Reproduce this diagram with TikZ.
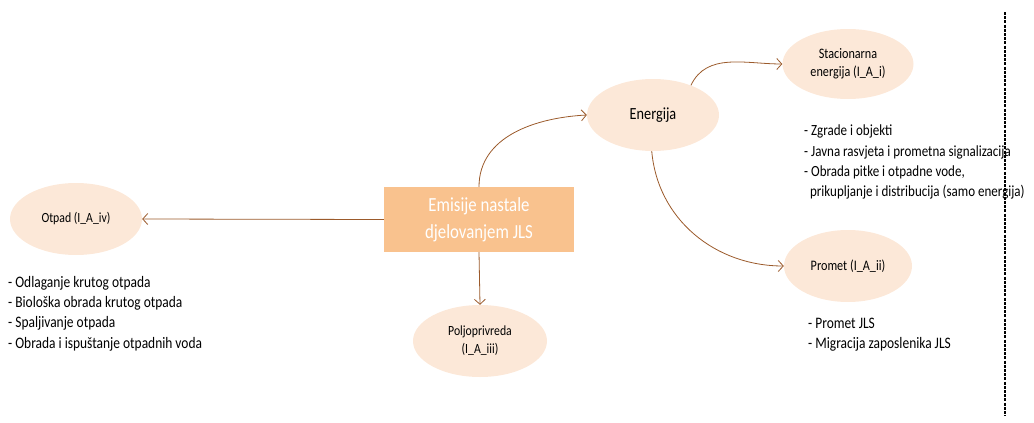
\documentclass[tikz,border=0pt]{standalone}
\usepackage{fontspec}
\setmainfont{Carlito}[FakeStretch=0.84]
\usetikzlibrary{arrows.meta,shapes.geometric}
\definecolor{rectfill}{HTML}{F9C28E}
\definecolor{ellfill}{HTML}{FCE8D8}
\definecolor{arr}{HTML}{9B5A2B}
\begin{document}
\begin{tikzpicture}[x=1pt,y=-1pt,
  ell/.style={ellipse,fill=ellfill,minimum width=132pt,minimum height=72pt,inner sep=0pt,align=center},
  conn/.style={draw=arr,line width=0.8pt,-{Straight Barb[length=5pt,width=11pt,line width=0.8pt]}},
  lst/.style={anchor=north west,align=left,inner sep=0pt,font=\fontsize{16}{20.3}\selectfont}]
\useasboundingbox (0,0) rectangle (1034,423);
\node[fill=rectfill,minimum width=190pt,minimum height=65pt,align=center,text=white,font=\fontsize{20}{27}\selectfont] (c) at (479,219.5) {Emisije nastale\\djelovanjem JLS};
\node[ell,font=\fontsize{17}{18}\selectfont] (en) at (653,115) {Energija};
\node[ell,minimum width=131pt,minimum height=70pt,font=\fontsize{14.5}{18}\selectfont] (st) at (848,64) {Stacionarna\\energija (I\_A\_i)};
\node[ell,minimum width=128pt,minimum height=72pt,font=\fontsize{14.5}{16}\selectfont] (pr) at (848,266) {Promet (I\_A\_ii)};
\node[ell,font=\fontsize{14}{16}\selectfont] (ot) at (76,219) {Otpad (I\_A\_iv)};
\node[ell,minimum width=134pt,font=\fontsize{14}{18}\selectfont] (po) at (480,341) {Poljoprivreda\\(I\_A\_iii)};
\draw[conn] (c.west) -- (ot.east);
\draw[conn] (c.south) -- (po.north);
\draw[conn] (c.north) to[out=90,in=183] (en.west);
\draw[conn] (en.38) to[out=65,in=180] (st.west);
\draw[conn] (en.268) to[out=-85,in=180] (pr.west);
\node[lst] (l1) at (8,276) {- Odlaganje krutog otpada\\- Biološka obrada krutog otpada\\- Spaljivanje otpada\\- Obrada i ispuštanje otpadnih voda};
\node[lst,font=\fontsize{15.5}{20.3}\selectfont] (l2) at (804,125) {- Zgrade i objekti\\- Javna rasvjeta i prometna signalizacija\\- Obrada pitke i otpadne vode,\\\ \ prikupljanje i distribucija (samo energija)};
\node[lst] (l3) at (808,318) {- Promet JLS\\- Migracija zaposlenika JLS};
\coordinate (d1) at (1005,12);
\coordinate (d2) at (1005,416);
\draw[black,line width=1.3pt,dash pattern=on 3pt off 1.2pt] (d1) -- (d2);
\end{tikzpicture}
\end{document}
